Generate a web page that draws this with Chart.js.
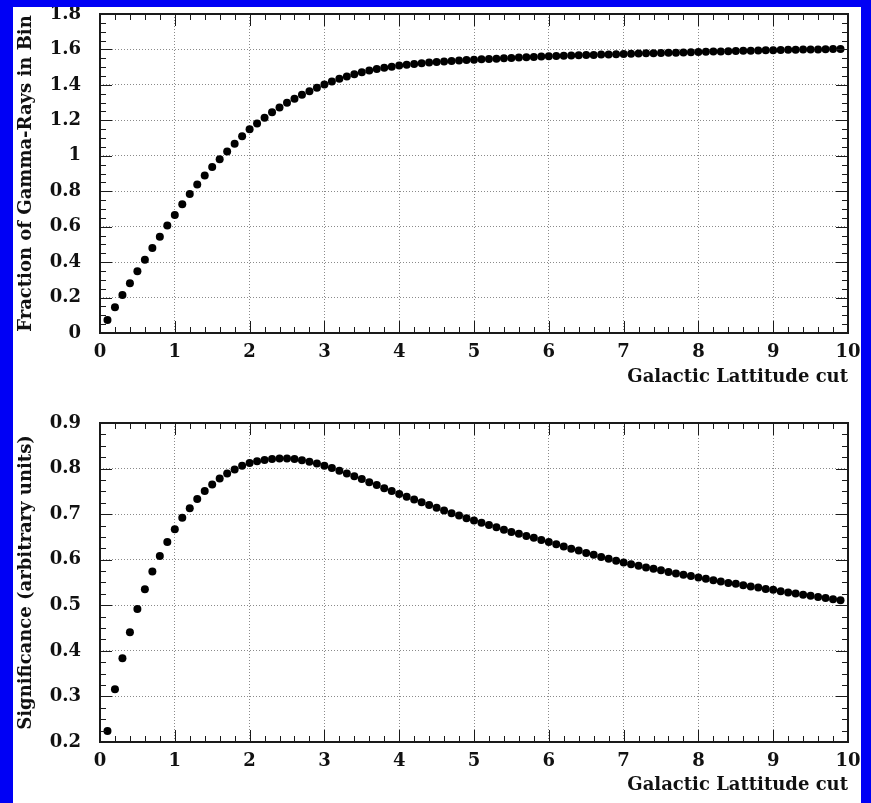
<!DOCTYPE html>
<html>
<head>
<meta charset="utf-8">
<script src="https://cdn.jsdelivr.net/npm/chart.js@4/dist/chart.umd.min.js"></script>
<style>
  html, body { margin: 0; padding: 0; }
  body { width: 871px; height: 803px; background: #0000f5; position: relative; overflow: hidden; }
  #paper { position: absolute; left: 13px; top: 7px; width: 848px; height: 796px; background: #fff; }
  .box { position: absolute; left: 13px; width: 848px; }
  #b1 { top: 7px; height: 393px; }
  #b2 { top: 400px; height: 403px; }
</style>
</head>
<body>
<div id="paper"></div>
<div class="box" id="b1"><canvas id="c1" width="848" height="393"></canvas></div>
<div class="box" id="b2"><canvas id="c2" width="848" height="403"></canvas></div>
<script>
// ---------------- data ----------------
const latitudeCut = [
  0.1,0.2,0.3,0.4,0.5,0.6,0.7,0.8,0.9,1.0,
  1.1,1.2,1.3,1.4,1.5,1.6,1.7,1.8,1.9,2.0,
  2.1,2.2,2.3,2.4,2.5,2.6,2.7,2.8,2.9,3.0,
  3.1,3.2,3.3,3.4,3.5,3.6,3.7,3.8,3.9,4.0,
  4.1,4.2,4.3,4.4,4.5,4.6,4.7,4.8,4.9,5.0,
  5.1,5.2,5.3,5.4,5.5,5.6,5.7,5.8,5.9,6.0,
  6.1,6.2,6.3,6.4,6.5,6.6,6.7,6.8,6.9,7.0,
  7.1,7.2,7.3,7.4,7.5,7.6,7.7,7.8,7.9,8.0,
  8.1,8.2,8.3,8.4,8.5,8.6,8.7,8.8,8.9,9.0,
  9.1,9.2,9.3,9.4,9.5,9.6,9.7,9.8,9.9
];
const gammaFraction = [
  0.073,0.145,0.214,0.281,0.348,0.414,0.479,0.543,0.606,0.666,
  0.726,0.785,0.838,0.889,0.937,0.981,1.024,1.068,1.110,1.150,
  1.182,1.215,1.245,1.273,1.299,1.322,1.344,1.364,1.384,1.402,
  1.419,1.434,1.448,1.460,1.471,1.481,1.489,1.497,1.503,1.509,
  1.514,1.518,1.522,1.526,1.529,1.532,1.535,1.538,1.540,1.542,
  1.544,1.546,1.548,1.550,1.552,1.554,1.556,1.558,1.560,1.562,
  1.563,1.564,1.566,1.567,1.568,1.569,1.571,1.572,1.573,1.575,
  1.576,1.577,1.578,1.579,1.580,1.581,1.582,1.583,1.584,1.586,
  1.587,1.588,1.589,1.590,1.591,1.592,1.593,1.594,1.595,1.596,
  1.597,1.598,1.598,1.599,1.600,1.600,1.601,1.602,1.603
];
const significance = [
  0.224,0.316,0.384,0.441,0.492,0.535,0.574,0.608,0.639,0.667,
  0.692,0.713,0.733,0.751,0.765,0.778,0.789,0.798,0.806,0.812,
  0.816,0.819,0.821,0.822,0.822,0.821,0.818,0.815,0.811,0.806,
  0.801,0.795,0.789,0.783,0.777,0.770,0.764,0.757,0.751,0.744,
  0.738,0.732,0.726,0.720,0.714,0.708,0.702,0.697,0.691,0.686,
  0.681,0.676,0.671,0.666,0.661,0.657,0.652,0.648,0.643,0.639,
  0.634,0.629,0.624,0.620,0.615,0.611,0.606,0.602,0.598,0.594,
  0.590,0.587,0.583,0.580,0.577,0.573,0.570,0.567,0.564,0.561,
  0.558,0.555,0.552,0.549,0.547,0.544,0.541,0.539,0.536,0.534,
  0.531,0.528,0.526,0.523,0.521,0.518,0.516,0.513,0.511
];
const xTicks = [0,1,2,3,4,5,6,7,8,9,10];
const yTicksTop = [0,0.2,0.4,0.6,0.8,1,1.2,1.4,1.6,1.8];
const yTicksBottom = [0.2,0.3,0.4,0.5,0.6,0.7,0.8,0.9];
const xTitle = 'Galactic Lattitude cut';
const yTitleTop = 'Fraction of Gamma-Rays in Bin';
const yTitleBottom = 'Significance (arbitrary units)';

// ---------------- styling / plugins ----------------
const FONT = "'DejaVu Serif', 'Liberation Serif', serif";
const tickText = v => String(Math.round(v * 1000) / 1000);

const frameTicks = {
  id: 'frameTicks',
  afterDraw(chart, args, opts) {
    const {ctx, chartArea: a} = chart;
    const x = chart.scales.x, y = chart.scales.y;
    ctx.save();
    ctx.strokeStyle = '#1a1a1a';
    ctx.lineWidth = 1;
    const seg = (x1, y1, x2, y2) => { ctx.beginPath(); ctx.moveTo(x1, y1); ctx.lineTo(x2, y2); ctx.stroke(); };
    const isMajor = (v, step) => Math.abs(v / step - Math.round(v / step)) < 1e-6;
    const nx = Math.round((x.max - x.min) / opts.xMinor);
    for (let i = 0; i <= nx; i++) {
      const v = x.min + i * opts.xMinor;
      const px = Math.round(x.getPixelForValue(v)) + 0.5;
      const L = isMajor(v - x.min, opts.xMajor) ? opts.majorLen : opts.minorLen;
      seg(px, a.bottom, px, a.bottom - L);
      seg(px, a.top, px, a.top + L);
    }
    const ny = Math.round((y.max - y.min) / opts.yMinor);
    for (let i = 0; i <= ny; i++) {
      const v = y.min + i * opts.yMinor;
      const py = Math.round(y.getPixelForValue(v)) + 0.5;
      const L = isMajor(v - y.min, opts.yMajor) ? opts.majorLen : opts.minorLen;
      seg(a.left, py, a.left + L, py);
      seg(a.right, py, a.right - L, py);
    }
    ctx.lineWidth = 2;
    ctx.strokeRect(a.left, a.top, a.right - a.left, a.bottom - a.top);
    ctx.restore();
  }
};

function makeChart(canvasId, yValues, yTicks, yMin, yMax, yTitle, cfg) {
  const pts = latitudeCut.map((xv, i) => ({x: xv, y: yValues[i]}));
  return new Chart(document.getElementById(canvasId), {
    type: 'scatter',
    data: {
      datasets: [{
        data: pts,
        pointRadius: 4,
        pointHoverRadius: 4,
        pointBackgroundColor: '#000',
        pointBorderWidth: 0,
        showLine: false,
        clip: false
      }]
    },
    options: {
      responsive: false,
      animation: false,
      devicePixelRatio: 1,
      events: [],
      layout: { padding: { top: cfg.padTop, right: 13, left: 0, bottom: 0 } },
      plugins: {
        legend: { display: false },
        tooltip: { enabled: false },
        frameTicks: { xMinor: 0.2, xMajor: 1, yMinor: cfg.yMinor, yMajor: cfg.yMajor, majorLen: 12, minorLen: 6 }
      },
      scales: {
        x: {
          type: 'linear',
          min: 0, max: 10,
          afterBuildTicks: s => { s.ticks = xTicks.map(v => ({value: v})); },
          afterFit: s => { s.height = cfg.xHeight; s.paddingLeft = 0; s.paddingRight = 0; },
          grid: { color: '#8a8a8a', lineWidth: 1, drawTicks: false },
          border: { display: false, dash: [1, 2] },
          ticks: {
            padding: 9, color: '#111', maxRotation: 0, autoSkip: false,
            callback: tickText,
            font: { family: FONT, size: 18, weight: 'bold' }
          },
          title: {
            display: true, text: xTitle, align: 'end', color: '#111',
            font: { family: FONT, size: 18, weight: 'bold' },
            padding: { top: 0, bottom: cfg.xTitleBottom }
          }
        },
        y: {
          type: 'linear',
          min: yMin, max: yMax,
          afterBuildTicks: s => { s.ticks = yTicks.map(v => ({value: v})); },
          afterFit: s => { s.width = 87; s.paddingTop = 0; s.paddingBottom = 0; },
          grid: { color: '#8a8a8a', lineWidth: 1, drawTicks: false },
          border: { display: false, dash: [1, 2] },
          ticks: {
            padding: 19, color: '#111', autoSkip: false,
            callback: tickText,
            font: { family: FONT, size: 18, weight: 'bold' }
          },
          title: {
            display: true, text: yTitle, color: '#111',
            font: { family: FONT, size: 18, weight: 'bold' },
            padding: { top: 3, bottom: 0 }
          }
        }
      }
    },
    plugins: [frameTicks]
  });
}

makeChart('c1', gammaFraction, yTicksTop, 0, 1.8, yTitleTop,
  { padTop: 7, xHeight: 67, xTitleBottom: 12, yMinor: 0.05, yMajor: 0.2 });
makeChart('c2', significance, yTicksBottom, 0.2, 0.9, yTitleBottom,
  { padTop: 23, xHeight: 61, xTitleBottom: 7, yMinor: 0.025, yMajor: 0.1 });
</script>
</body>
</html>
